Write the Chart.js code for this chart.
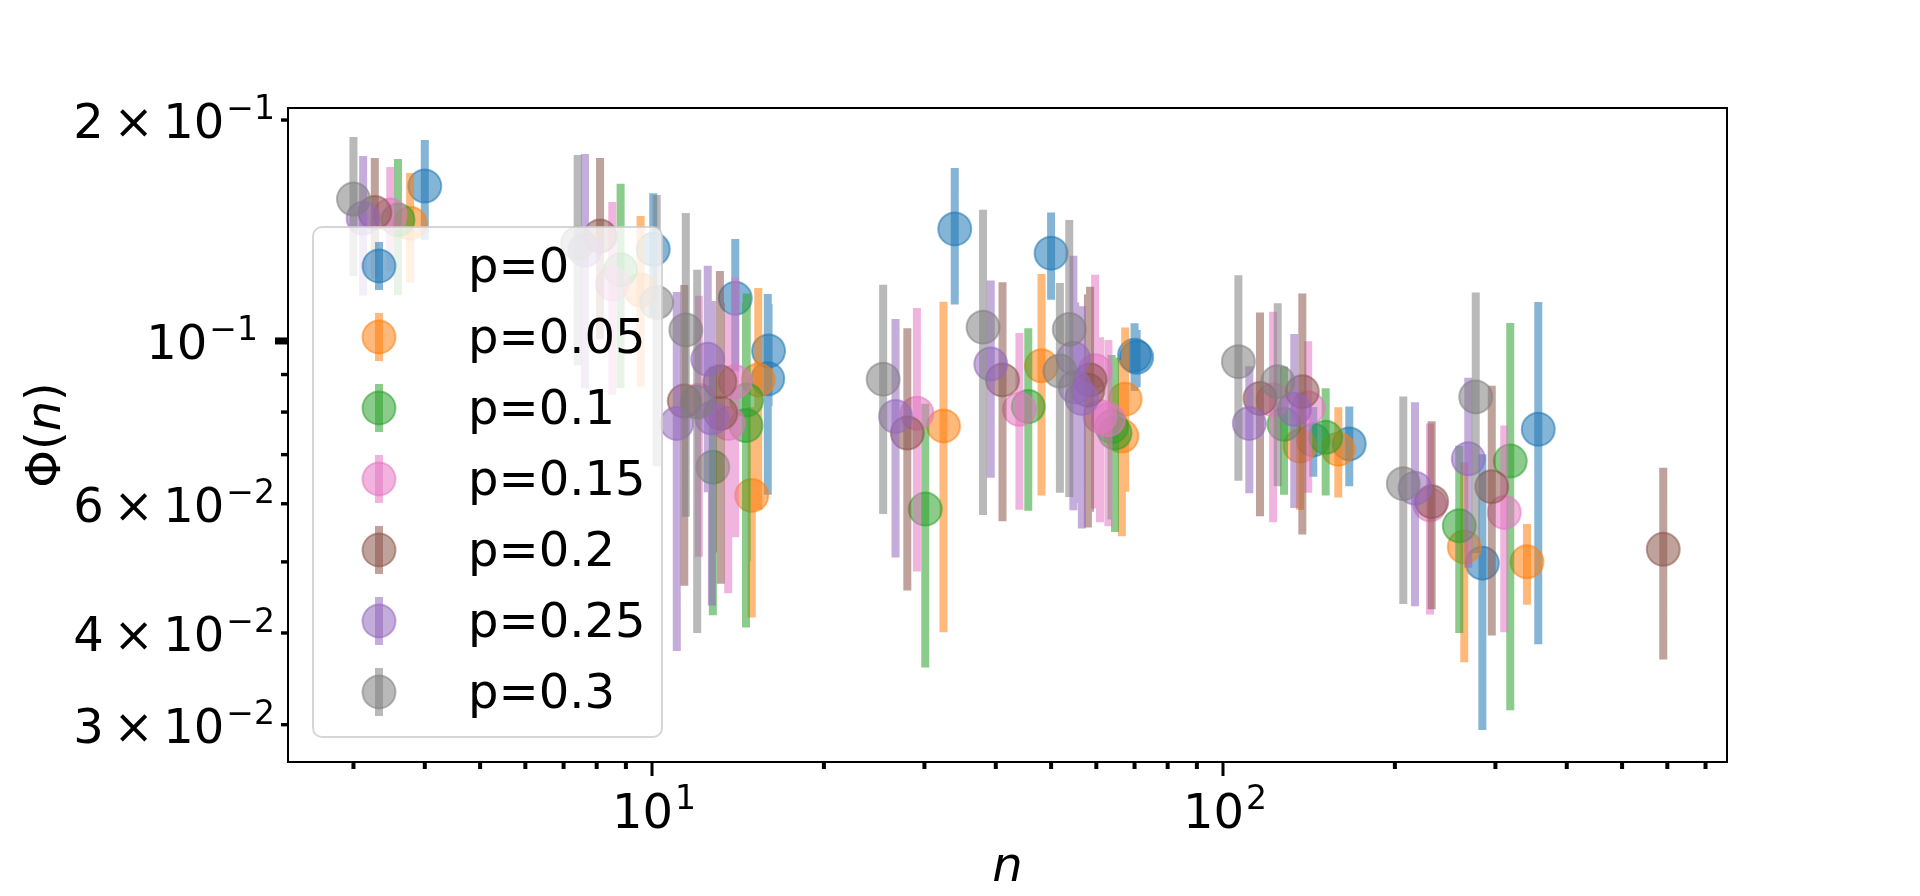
<!DOCTYPE html>
<html lang="en">
<head>
<meta charset="UTF-8" />
<title>Phi(n)</title>
<script src="https://cdn.jsdelivr.net/npm/chart.js@4.4.1/dist/chart.umd.min.js"></script>
<style>
  body { margin: 0; background: #fff; }
  #wrap { width: 1920px; height: 896px; }
</style>
</head>
<body>
<div id="wrap"><canvas id="chart"></canvas></div>
<script>
// values: n, Phi(n) and the error on Phi(n)
const labels = ['p=0', 'p=0.05', 'p=0.1', 'p=0.15', 'p=0.2', 'p=0.25', 'p=0.3'];
const colors = ['#1f77b4', '#ff7f0e', '#2ca02c', '#e377c2', '#8c564b', '#9467bd', '#7f7f7f'];

const n_p0   = [4.00, 10.05, 13.99, 15.95, 16.0, 33.9, 50.0, 70.0, 70.6, 143.9, 166.4, 284.6, 356.6];
const phi_p0 = [0.1626, 0.1333, 0.1143, 0.0888, 0.0969, 0.1421, 0.1317, 0.0956, 0.0950, 0.0733, 0.0724, 0.0498, 0.0758];
const err_p0 = [0.0252, 0.0256, 0.0234, 0.0271, 0.0154, 0.0300, 0.0179, 0.0101, 0.0085, 0.0080, 0.0090, 0.0203, 0.0372];

const n_p05   = [3.77, 9.55, 14.95, 15.35, 32.4, 48.1, 66.5, 67.4, 136.4, 159.2, 264.6, 340.7];
const phi_p05 = [0.1447, 0.1173, 0.0616, 0.0885, 0.0766, 0.0925, 0.0742, 0.0833, 0.0719, 0.0712, 0.0524, 0.0500];
const err_p05 = [0.0247, 0.0307, 0.0196, 0.0296, 0.0365, 0.0309, 0.0200, 0.0210, 0.0130, 0.0100, 0.0159, 0.0063];

const n_p10   = [3.59, 8.81, 12.78, 14.61, 14.65, 30.1, 45.6, 63.8, 64.7, 127.9, 151.3, 259.3, 318.5];
const phi_p10 = [0.1462, 0.1250, 0.0673, 0.0767, 0.0831, 0.0590, 0.0814, 0.0764, 0.0749, 0.0770, 0.0739, 0.0560, 0.0686];
const err_p10 = [0.0308, 0.0387, 0.0250, 0.0360, 0.0330, 0.0231, 0.0227, 0.0193, 0.0200, 0.0153, 0.0123, 0.0160, 0.0372];

const n_p15   = [3.48, 8.52, 12.08, 13.6, 13.98, 29.1, 44.0, 59.7, 60.9, 63.0, 122.4, 141.0, 230.4, 310.9];
const phi_p15 = [0.1485, 0.1196, 0.0830, 0.0772, 0.0880, 0.0797, 0.0807, 0.0911, 0.0789, 0.0781, 0.0831, 0.0810, 0.0598, 0.0584];
const err_p15 = [0.0241, 0.0351, 0.0322, 0.0319, 0.0340, 0.0312, 0.0218, 0.0320, 0.0223, 0.0222, 0.0265, 0.0189, 0.0174, 0.0183];

const n_p20   = [3.27, 8.11, 11.39, 13.15, 13.2, 28.0, 41.1, 58.0, 58.5, 116.1, 137.7, 232.0, 295.6, 590.3];
const phi_p20 = [0.1496, 0.1390, 0.0828, 0.0880, 0.0797, 0.0749, 0.0885, 0.0857, 0.0885, 0.0835, 0.0853, 0.0604, 0.0633, 0.0520];
const err_p20 = [0.0280, 0.0385, 0.0364, 0.0365, 0.0330, 0.0292, 0.0317, 0.0300, 0.0300, 0.0258, 0.0308, 0.0173, 0.0236, 0.0152];

const n_p25   = [3.12, 7.63, 11.05, 12.52, 12.73, 26.7, 39.2, 54.7, 55.1, 56.6, 111.2, 133.3, 216.9, 268.9];
const phi_p25 = [0.1470, 0.1330, 0.0772, 0.0944, 0.0785, 0.0789, 0.0930, 0.0947, 0.0865, 0.0835, 0.0772, 0.0807, 0.0630, 0.0691];
const err_p25 = [0.0317, 0.0468, 0.0394, 0.0322, 0.0349, 0.0282, 0.0279, 0.0359, 0.0263, 0.0280, 0.0152, 0.0215, 0.0195, 0.0200];

const n_p30   = [3.00, 7.41, 10.19, 11.46, 12.0, 25.4, 38.0, 51.8, 53.8, 106.4, 124.7, 206.9, 277.1];
const phi_p30 = [0.1561, 0.1359, 0.1128, 0.1035, 0.0825, 0.0887, 0.1044, 0.0910, 0.1037, 0.0937, 0.0880, 0.0639, 0.0839];
const err_p30 = [0.0335, 0.0433, 0.0453, 0.0459, 0.0425, 0.0306, 0.0465, 0.0289, 0.0424, 0.0292, 0.0246, 0.0201, 0.0325];

// axis ticks
const xTicks = [3, 4, 5, 6, 7, 8, 9, 10, 20, 30, 40, 50, 60, 70, 80, 90, 100, 200, 300, 400, 500, 600, 700];
const xMajor = [10, 100];
const xTickLabels = [['10', '1'], ['10', '2']];
const yTicks = [0.03, 0.04, 0.05, 0.06, 0.07, 0.08, 0.09, 0.1, 0.2];
const yLabelled = [0.2, 0.1, 0.06, 0.04, 0.03];
const yTickLabels = [['2\u2009×\u200910', '−1'], ['10', '−1'], ['6\u2009×\u200910', '−2'], ['4\u2009×\u200910', '−2'], ['3\u2009×\u200910', '−2']];

const series = [
  [n_p0, phi_p0, err_p0], [n_p05, phi_p05, err_p05], [n_p10, phi_p10, err_p10],
  [n_p15, phi_p15, err_p15], [n_p20, phi_p20, err_p20], [n_p25, phi_p25, err_p25],
  [n_p30, phi_p30, err_p30]
];

function rgba(hex, a) {
  const v = parseInt(hex.slice(1), 16);
  return 'rgba(' + (v >> 16) + ',' + ((v >> 8) & 255) + ',' + (v & 255) + ',' + a + ')';
}

const ALPHA = 0.55;
const FONT = '"DejaVu Sans"';
const datasets = [];
series.forEach((s, i) => {
  const [ns, phis, errs] = s;
  const bars = [];
  const pts = [];
  ns.forEach((n, k) => {
    bars.push({ x: n, y: phis[k] - errs[k] }, { x: n, y: phis[k] + errs[k] }, { x: n, y: null });
    pts.push({ x: n, y: phis[k] });
  });
  // later series drawn on top, markers on top of their own bars
  datasets.push({
    type: 'line', label: labels[i] + ' err', data: bars,
    borderColor: rgba(colors[i], ALPHA), borderWidth: 8, borderCapStyle: 'butt',
    pointRadius: 0, showLine: true, spanGaps: false, tension: 0,
    order: (6 - i) * 2 + 1
  });
  datasets.push({
    type: 'scatter', label: labels[i], data: pts,
    backgroundColor: rgba(colors[i], ALPHA), borderColor: rgba(colors[i], ALPHA),
    borderWidth: 2, pointRadius: 16.5,
    order: (6 - i) * 2
  });
});

function drawSci(ctx, base, exp, x, baseline, align) {
  ctx.font = '48px ' + FONT;
  const wb = ctx.measureText(base).width;
  ctx.font = '33px ' + FONT;
  const we = ctx.measureText(exp).width;
  const total = wb + 2 + we;
  const start = align === 'right' ? x - total : x - total / 2;
  ctx.textAlign = 'left';
  ctx.textBaseline = 'alphabetic';
  ctx.font = '48px ' + FONT;
  ctx.fillText(base, start, baseline);
  ctx.font = '33px ' + FONT;
  ctx.fillText(exp, start + wb + 2, baseline - 19);
}

const decor = {
  id: 'decor',
  afterDraw(chart) {
    const ctx = chart.ctx;
    const a = chart.chartArea;
    const xs = chart.scales.x, ys = chart.scales.y;
    ctx.save();

    // legend
    const lx = a.left + 25, ly = a.top + 119, lw = 349, lh = 510;
    ctx.beginPath();
    ctx.roundRect(lx, ly, lw, lh, 9);
    ctx.fillStyle = 'rgba(255,255,255,0.8)';
    ctx.fill();
    ctx.lineWidth = 2;
    ctx.strokeStyle = 'rgba(204,204,204,0.8)';
    ctx.stroke();
    labels.forEach((lab, i) => {
      const cx = lx + 66, cy = ly + 39 + i * 71;
      ctx.fillStyle = rgba(colors[i], ALPHA);
      ctx.fillRect(cx - 4, cy - 24, 8, 48);
      ctx.beginPath();
      ctx.arc(cx, cy, 16.5, 0, Math.PI * 2);
      ctx.fill();
      ctx.lineWidth = 2;
      ctx.strokeStyle = rgba(colors[i], ALPHA);
      ctx.stroke();
      ctx.fillStyle = '#000';
      ctx.font = '48px ' + FONT;
      ctx.textAlign = 'left';
      ctx.textBaseline = 'alphabetic';
      ctx.fillText(lab, lx + 155, cy + 16);
    });

    // frame
    ctx.strokeStyle = '#000';
    ctx.lineWidth = 2;
    ctx.strokeRect(a.left, a.top, a.right - a.left, a.bottom - a.top);

    // ticks
    ctx.fillStyle = '#000';
    xTicks.forEach(v => {
      const px = xs.getPixelForValue(v);
      if (xMajor.includes(v)) ctx.fillRect(px - 1.5, a.bottom, 3, 14);
      else ctx.fillRect(px - 2, a.bottom, 4, 7);
    });
    yTicks.forEach(v => {
      const py = ys.getPixelForValue(v);
      if (v === 0.1) ctx.fillRect(a.left - 13, py - 3.5, 13, 7);
      else ctx.fillRect(a.left - 7, py - 1.7, 7, 3.4);
    });

    // tick labels
    xMajor.forEach((v, k) => {
      const px = xs.getPixelForValue(v);
      drawSci(ctx, xTickLabels[k][0], xTickLabels[k][1], px + 2, a.bottom + 66, 'center');
    });
    yLabelled.forEach((v, k) => {
      const py = ys.getPixelForValue(v);
      const right = v === 0.1 ? a.left - 30 : a.left - 13;
      drawSci(ctx, yTickLabels[k][0], yTickLabels[k][1], right, py + 18, 'right');
    });

    // axis titles
    ctx.font = 'italic 48px ' + FONT;
    ctx.textAlign = 'center';
    ctx.textBaseline = 'alphabetic';
    ctx.fillText('n', (a.left + a.right) / 2, a.bottom + 119);

    ctx.translate(60, (a.top + a.bottom) / 2);
    ctx.rotate(-Math.PI / 2);
    ctx.font = '48px ' + FONT;
    const w1 = ctx.measureText('Φ(').width;
    const w3 = ctx.measureText(')').width;
    ctx.font = 'italic 48px ' + FONT;
    const w2 = ctx.measureText('n').width;
    let x0 = -(w1 + w2 + w3) / 2;
    ctx.textAlign = 'left';
    ctx.font = '48px ' + FONT;
    ctx.fillText('Φ(', x0, 0);
    ctx.font = 'italic 48px ' + FONT;
    ctx.fillText('n', x0 + w1, 0);
    ctx.font = '48px ' + FONT;
    ctx.fillText(')', x0 + w1 + w2, 0);
    ctx.restore();
  }
};

new Chart(document.getElementById('chart'), {
  type: 'scatter',
  data: { datasets },
  options: {
    animation: false,
    responsive: true,
    maintainAspectRatio: false,
    events: [],
    layout: { padding: { left: 288, right: 193, top: 108, bottom: 134 } },
    plugins: { legend: { display: false }, tooltip: { enabled: false } },
    scales: {
      x: { type: 'logarithmic', min: 2.304, max: 763.3, display: false },
      y: { type: 'logarithmic', min: 0.026685, max: 0.2077, display: false }
    }
  },
  plugins: [decor]
});
</script>
</body>
</html>
